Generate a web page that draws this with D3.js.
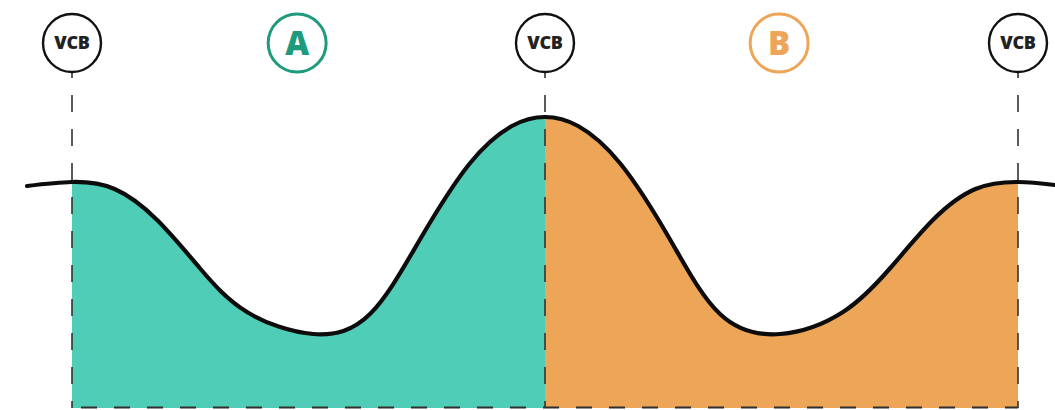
<!DOCTYPE html>
<html>
<head>
<meta charset="utf-8">
<script src="https://cdn.jsdelivr.net/npm/d3@7"></script>
<style>
  html, body { margin: 0; padding: 0; background: #fff; }
  svg { display: block; }
</style>
</head>
<body>
<script>
// ---- data ----
// boundary positions (VCB markers), in segment units
const boundaries = [0, 1, 2];
const boundaryLabels = ["VCB", "VCB", "VCB"];
// region labels
const regionLabels = ["A", "B"];
const regionCenters = [0.476, 1.495];
const regionColors = ["#50cdb7", "#eda557"];
const regionLabelColors = ["#1e9a7c", "#eda557"];
// curve (position in segment units, value)
const curveX = [-0.095, 0, 0.090, 0.180, 0.270, 0.370, 0.510, 0.630, 0.735, 0.840, 0.930, 1.0,
                1.070, 1.160, 1.265, 1.370, 1.497, 1.630, 1.730, 1.820, 1.910, 2.0, 2.078];
const curveV = [222, 226, 219, 188, 140, 96, 74, 94, 168, 244, 282, 291,
                282, 244, 168, 94, 74, 96, 140, 188, 219, 226, 223];

// ---- layout ----
const W = 1055, H = 410;
const svg = d3.select("body").append("svg").attr("width", W).attr("height", H);

const x = d3.scaleLinear().domain([0, 2]).range([72, 1018]);
const y = d3.scaleLinear().domain([0, 300]).range([408, 108]);

const pts = curveX.map((t, i) => ({ t, v: curveV[i] }));
const curve = d3.curveNatural;

const area = d3.area().x(d => x(d.t)).y0(y(0)).y1(d => y(d.v)).curve(curve);
const line = d3.line().x(d => x(d.t)).y(d => y(d.v)).curve(curve);

const defs = svg.append("defs");
regionLabels.forEach((lab, i) => {
  defs.append("clipPath").attr("id", "clip" + i)
    .append("rect")
    .attr("x", x(boundaries[i]))
    .attr("y", 0)
    .attr("width", x(boundaries[i + 1]) - x(boundaries[i]))
    .attr("height", H);
  svg.append("path")
    .datum(pts)
    .attr("d", area)
    .attr("fill", regionColors[i])
    .attr("clip-path", "url(#clip" + i + ")");
});

// bottom dashed baseline
svg.append("line")
  .attr("x1", x(0)).attr("x2", x(2))
  .attr("y1", y(0) - 0.5).attr("y2", y(0) - 0.5)
  .attr("stroke", "#2f2f2f").attr("stroke-width", 2.2)
  .attr("stroke-dasharray", "16 17")
  .attr("stroke-dashoffset", -9);

const cy = 43, r = 29;

// vertical dashed lines
svg.selectAll(".vline").data(boundaries).join("line")
  .attr("x1", d => x(d)).attr("x2", d => x(d))
  .attr("y1", cy + r).attr("y2", y(0))
  .attr("stroke", "#333").attr("stroke-width", 1.6)
  .attr("stroke-dasharray", "17 17")
  .attr("stroke-dashoffset", 11);

// curve
svg.append("path")
  .datum(pts)
  .attr("d", line)
  .attr("fill", "none")
  .attr("stroke", "#0c0c0c")
  .attr("stroke-width", 4.2)
  .attr("stroke-linecap", "round");

// VCB circles
const vg = svg.selectAll(".vcb").data(boundaries).join("g")
  .attr("transform", d => `translate(${x(d)},${cy})`);
vg.append("circle").attr("r", r).attr("fill", "#fff")
  .attr("stroke", "#111").attr("stroke-width", 2.4);
vg.append("text")
  .text((d, i) => boundaryLabels[i])
  .attr("text-anchor", "middle").attr("dy", "0.36em")
  .attr("font-family", "'Open Sans', sans-serif")
  .attr("font-weight", 800).attr("font-size", 18)
  .attr("letter-spacing", -0.3)
  .attr("fill", "#222");

// region label circles
const rg = svg.selectAll(".reg").data(regionLabels).join("g")
  .attr("transform", (d, i) => `translate(${x(regionCenters[i])},${cy})`);
rg.append("circle").attr("r", r).attr("fill", "#fff")
  .attr("stroke", (d, i) => regionLabelColors[i]).attr("stroke-width", 3);
rg.append("text")
  .text(d => d)
  .attr("text-anchor", "middle").attr("dy", "0.36em")
  .attr("font-family", "'Open Sans', sans-serif")
  .attr("font-weight", 800).attr("font-size", 33)
  .attr("fill", (d, i) => regionLabelColors[i]);
</script>
</body>
</html>
